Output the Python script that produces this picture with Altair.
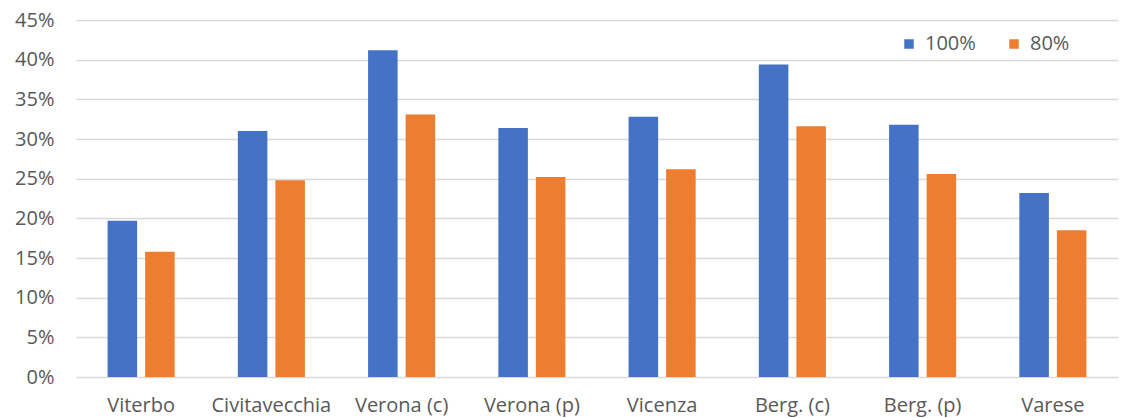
import altair as alt
import pandas as pd

cities = ["Viterbo", "Civitavecchia", "Verona (c)", "Verona (p)", "Vicenza", "Berg. (c)", "Berg. (p)", "Varese"]
series_names = ["100%", "80%"]
vals_100 = [0.197, 0.310, 0.412, 0.314, 0.328, 0.394, 0.318, 0.232]
vals_80 = [0.158, 0.248, 0.331, 0.252, 0.262, 0.316, 0.256, 0.185]
y_ticks = [0, 0.05, 0.10, 0.15, 0.20, 0.25, 0.30, 0.35, 0.40, 0.45]

rows = []
for c, a, b in zip(cities, vals_100, vals_80):
    rows.append({"city": c, "series": series_names[0], "value": a})
    rows.append({"city": c, "series": series_names[1], "value": b})
df = pd.DataFrame(rows)

FONT = "Open Sans"
GRAY = "#595959"
FS = 20

chart = alt.Chart(df).mark_bar().encode(
    x=alt.X("city:N", sort=cities, title=None,
            scale=alt.Scale(paddingInner=0.485, paddingOuter=0.2425),
            axis=alt.Axis(labelAngle=0, ticks=False, domain=False, labelPadding=18,
                          labelFontSize=FS, labelColor=GRAY, labelFont=FONT)),
    xOffset=alt.XOffset("series:N", sort=series_names,
                        scale=alt.Scale(paddingInner=0.213, paddingOuter=0)),
    y=alt.Y("value:Q", title=None,
            scale=alt.Scale(domain=[0, 0.45], nice=False),
            axis=alt.Axis(values=y_ticks, format=".0%", ticks=False, domain=False,
                          labelPadding=22, labelFontSize=FS, labelColor=GRAY, labelFont=FONT,
                          gridColor="#D9D9D9", gridWidth=1.5)),
    color=alt.Color("series:N", sort=series_names,
                    scale=alt.Scale(domain=series_names, range=["#4472C4", "#ED7D31"]),
                    legend=alt.Legend(title=None, orient="none", legendX=823, legendY=14,
                                      direction="horizontal", symbolType="square",
                                      symbolSize=90, symbolStrokeWidth=0,
                                      labelFontSize=FS, labelColor=GRAY, labelFont=FONT,
                                      columnPadding=28, labelOffset=6)),
).properties(
    width=1042, height=357,
    autosize=alt.AutoSizeParams(type="none"),
    padding={"left": 76, "top": 20, "right": 3, "bottom": 41},
).configure_view(stroke=None)

chart.save("out.html", embed_options={"renderer": "svg", "actions": False})
